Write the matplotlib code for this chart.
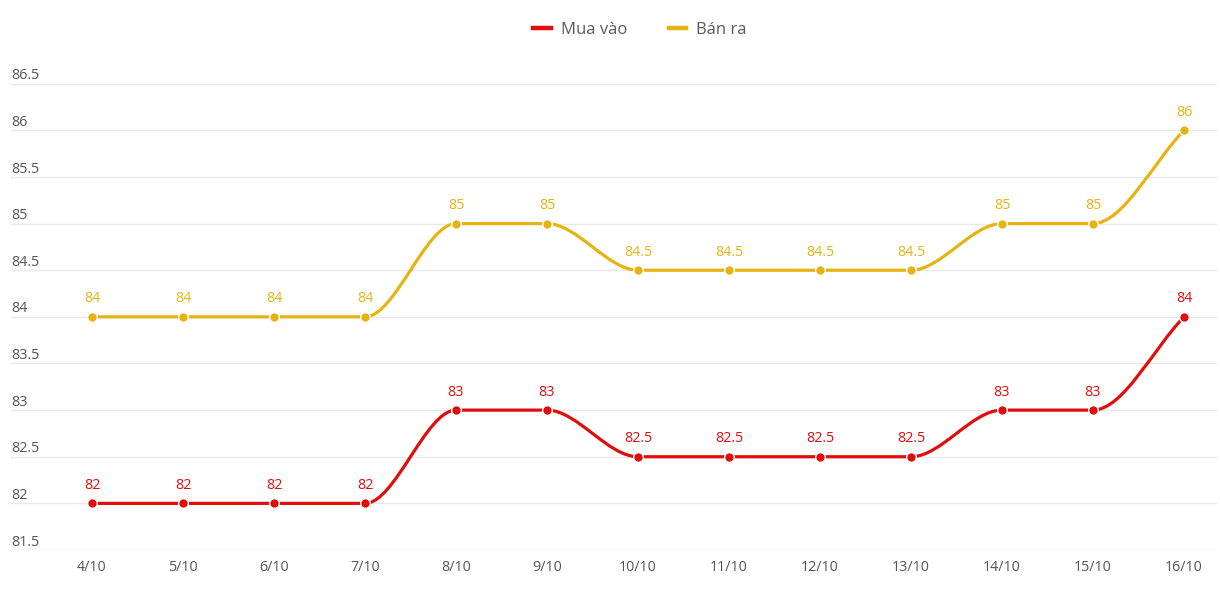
import matplotlib
matplotlib.use("Agg")
import matplotlib.pyplot as plt
from matplotlib.path import Path
from matplotlib.patches import PathPatch
from matplotlib.lines import Line2D
import numpy as np

plt.rcParams['font.family'] = ['Open Sans', 'DejaVu Sans']

dates = ["4/10", "5/10", "6/10", "7/10", "8/10", "9/10", "10/10", "11/10",
         "12/10", "13/10", "14/10", "15/10", "16/10"]
mua_vao = [82, 82, 82, 82, 83, 83, 82.5, 82.5, 82.5, 82.5, 83, 83, 84]
ban_ra = [84, 84, 84, 84, 85, 85, 84.5, 84.5, 84.5, 84.5, 85, 85, 86]
y_ticks = [81.5, 82, 82.5, 83, 83.5, 84, 84.5, 85, 85.5, 86, 86.5]

RED = "#e10c0c"
YELLOW = "#e6b312"
GRID = "#e8e8e8"
TICK = "#555555"


def monotone_path(xs, ys):
    """Monotone cubic (Fritsch-Carlson) bezier path through the points."""
    xs = np.asarray(xs, float)
    ys = np.asarray(ys, float)
    n = len(xs)
    d = np.diff(ys) / np.diff(xs)
    m = np.zeros(n)
    m[0] = d[0]
    m[-1] = d[-1]
    for i in range(1, n - 1):
        if d[i - 1] == 0 or d[i] == 0 or np.sign(d[i - 1]) != np.sign(d[i]):
            m[i] = 0
        else:
            m[i] = (d[i - 1] + d[i]) / 2
    for i in range(n - 1):
        if d[i] == 0:
            m[i] = 0
            m[i + 1] = 0
            continue
        a = m[i] / d[i]
        b = m[i + 1] / d[i]
        s = a * a + b * b
        if s > 9:
            t = 3 / np.sqrt(s)
            m[i] = a * t * d[i]
            m[i + 1] = b * t * d[i]
    verts = [(xs[0], ys[0])]
    codes = [Path.MOVETO]
    for i in range(n - 1):
        dx = (xs[i + 1] - xs[i]) / 3
        verts += [(xs[i] + dx, ys[i] + m[i] * dx),
                  (xs[i + 1] - dx, ys[i + 1] - m[i + 1] * dx),
                  (xs[i + 1], ys[i + 1])]
        codes += [Path.CURVE4] * 3
    return Path(verts, codes)


fig = plt.figure(figsize=(12.2, 5.97), dpi=100)
ax = fig.add_axes([11 / 1220, 1 - 550 / 597, (1217 - 11) / 1220, (550 - 83.7) / 597])

x = np.arange(len(dates))
ax.set_xlim((11 - 92) / 91, (1217 - 92) / 91)
ax.set_ylim(81.5, 86.5)

for yv in y_ticks:
    ax.axhline(yv, color=GRID, lw=1, zorder=0)
    lbl = ("%g" % yv)
    ax.annotate(lbl, xy=(0, yv), xycoords=('axes fraction', 'data'),
                xytext=(0, 3.2), textcoords='offset points',
                ha='left', va='baseline', fontsize=10.3, color=TICK,
                annotation_clip=False)

for series, color in ((ban_ra, YELLOW), (mua_vao, RED)):
    patch = PathPatch(monotone_path(x, series), facecolor='none',
                      edgecolor=color, lw=2.3, zorder=3, capstyle='round',
                      joinstyle='round')
    ax.add_patch(patch)
    ax.plot(x, series, linestyle='none', marker='o', markersize=7,
            markerfacecolor=color, markeredgecolor='white',
            markeredgewidth=1.0, zorder=4, clip_on=False)
    for xi, yi in zip(x, series):
        ax.annotate("%g" % yi, xy=(xi, yi), xytext=(0, 10.5),
                    textcoords='offset points', ha='center', va='baseline',
                    fontsize=10.3, color=color, annotation_clip=False)

ax.set_xticks(x)
ax.set_xticklabels(dates)
ax.tick_params(axis='x', length=0, pad=7.5, labelsize=10.3, labelcolor=TICK)
ax.set_yticks([])
for s in ax.spines.values():
    s.set_visible(False)

handles = [Line2D([], [], color=RED, lw=3.2),
           Line2D([], [], color=YELLOW, lw=3.2)]
fig.legend(handles, ["Mua vào", "Bán ra"], loc='center',
           bbox_to_anchor=(640 / 1220, 1 - 30 / 597), ncol=2, frameon=False,
           fontsize=12, labelcolor="#5a5a5a", handlelength=1.05,
           handletextpad=0.6, columnspacing=2.5)

fig.savefig("out.png", dpi=100, facecolor='white')
